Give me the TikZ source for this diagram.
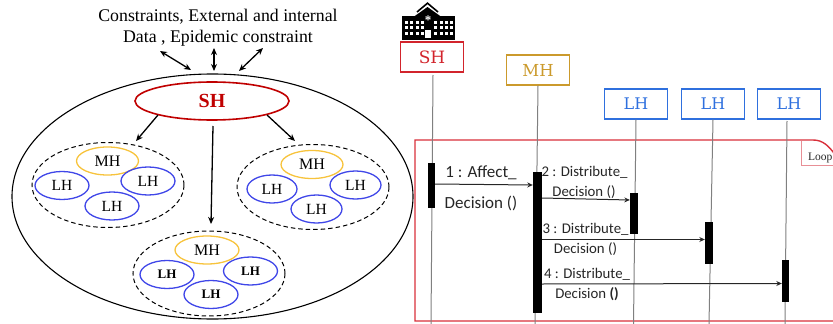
\documentclass[tikz,border=0pt]{standalone}
\usepackage{fontspec}
\setmainfont{Liberation Serif}
\newfontfamily\slabfont{DejaVu Serif}
\newfontfamily\calfont{Carlito}
\usetikzlibrary{arrows.meta,shapes.geometric}
\definecolor{shred}{HTML}{C00000}
\definecolor{myellow}{HTML}{F7C33C}
\definecolor{lblue}{HTML}{3F46E8}
\definecolor{boxred}{HTML}{D2242C}
\definecolor{boxgold}{HTML}{CB9A2C}
\definecolor{boxblue}{HTML}{2F70DE}
\definecolor{lifegray}{HTML}{808080}
\definecolor{framered}{HTML}{D8303A}
\definecolor{tabpink}{HTML}{E88F96}
\tikzset{
  x=1pt,y=-1pt,
  oval/.style n args={2}{ellipse,draw,inner sep=0pt,minimum width=#1*2pt,minimum height=#2*2pt},
  outerring/.style={oval={200.5}{122.5},draw=black,line width=1.1pt},
  sharea/.style={oval={77}{19},draw=shred,line width=1.6pt},
  grouparea/.style={oval={76}{42.5},draw=black,line width=1pt,dash pattern=on 4.5pt off 3pt},
  mhoval/.style={oval={31}{14},draw=myellow,line width=1.3pt,font=\fontsize{16}{18}\selectfont},
  lhoval/.style={oval={27}{14},draw=lblue,line width=1.3pt,font=\fontsize{15.5}{18}\selectfont},
  lhbold/.style={lhoval,font=\fontsize{13}{16}\selectfont\bfseries},
  arr/.style={line width=1.3pt,-{Stealth[length=7pt,width=6pt]}},
  biarr/.style={line width=1.3pt,{Stealth[length=7pt,width=6pt]}-{Stealth[length=7pt,width=6pt]}},
  lifebox/.style={rectangle,draw,line width=1.3pt,minimum width=63pt,minimum height=30pt,inner sep=0pt},
  lifeline/.style={draw=lifegray,line width=1pt},
  bar/.style={rectangle,fill=black,inner sep=0pt},
  msg/.style={line width=1pt,draw=black!85,-{Stealth[length=5.5pt,width=5pt]}},
  txt/.style={inner sep=0pt,anchor=base},
  msgtxt/.style={txt,text=black!85,font=\calfont\fontsize{14.8}{16}\selectfont},
  bigmsg/.style={txt,text=black!85,font=\calfont\fontsize{17}{18}\selectfont}
}
\begin{document}
\begin{tikzpicture}
\useasboundingbox (0,0) rectangle (833,324);
% title
\node[txt,font=\fontsize{17.8}{20}\selectfont] (t1) at (218,21) {Constraints, External and internal};
\node[txt,font=\fontsize{17.8}{20}\selectfont] (t2) at (218,42) {Data , Epidemic constraint};
% left structure
\node[outerring] (ring) at (212.5,196.5) {};
\node[sharea,font=\fontsize{20}{22}\selectfont\bfseries,text=shred] (sh) at (212,101) {SH};
\node[grouparea] (g1) at (108,185) {};
\node[mhoval] (m1) at (107.5,161) {MH};
\node[lhoval] (l11) at (62,185.5) {LH};
\node[lhoval] (l12) at (148,181) {LH};
\node[lhoval] (l13) at (112,206) {LH};
\node[grouparea] (g2) at (313,187) {};
\node[mhoval] (m2) at (312,164.5) {MH};
\node[lhoval,minimum width=50pt] (l21) at (272,189) {LH};
\node[lhoval,minimum width=51pt] (l22) at (355.5,185) {LH};
\node[lhoval,minimum width=51pt] (l23) at (316.5,209) {LH};
\node[grouparea] (g3) at (209,273.5) {};
\node[mhoval,minimum width=64pt] (m3) at (207,250) {MH};
\node[lhbold] (l31) at (167,274.5) {LH};
\node[lhbold] (l32) at (250.5,271) {LH};
\node[lhbold] (l33) at (211,294.5) {LH};
% free ends
\coordinate (ta) at (160,51); \coordinate (tb) at (191,70);
\coordinate (tc) at (214,48); \coordinate (td) at (214,71);
\coordinate (te) at (263,48); \coordinate (tf) at (239,71);
\coordinate (sa) at (158,115); \coordinate (sb) at (136,141);
\coordinate (sc) at (267,115); \coordinate (sd) at (295,141);
\coordinate (se) at (213,126); \coordinate (sf) at (211,224);
\draw[biarr] (ta) -- (tb);
\draw[biarr] (tc) -- (td);
\draw[biarr] (te) -- (tf);
\draw[arr] (sa) -- (sb);
\draw[arr] (sc) -- (sd);
\draw[arr] (se) -- (sf);
% hospital icon
\fill[black] (402,16) rectangle (454.5,40);
\fill[black] (412,18) -- (427.5,7) -- (443,18) -- cycle;
\draw[black,line width=1.6pt] (417,12) -- (427.5,3.2) -- (438,12);
\foreach \cx in {405,410.3,415.6,421,434,439.6,445,450.3}
  \foreach \cy in {20.5,26.3,32}
    \fill[white] (\cx,\cy) rectangle ++(3,3);
\fill[white] (425.3,30) rectangle (430.7,38);
\node[inner sep=0pt,text=white,font=\fontsize{13}{13}\selectfont\bfseries] (star) at (428,20) {*};
% lifelines
\coordinate (e1) at (431,324); \coordinate (e2) at (535,324); \coordinate (e3) at (633.5,324);
\coordinate (e4) at (709,324); \coordinate (e5) at (785,324); \coordinate (st1) at (433,75); \coordinate (st5) at (787,121);
% frame
\draw[framered,line width=1.4pt] (836,156) .. controls (829,146) and (823,140) .. (813,140) -- (415,140) -- (415,321) -- (840,321);
\draw[tabpink,line width=1pt] (801,140.5) -- (801,165.5) -- (840,165.5);
\node[txt,anchor=base west,text=black!85,font=\fontsize{11.5}{13}\selectfont] (loop) at (808,160) {Loop};
% boxes
\node[lifebox,draw=boxred,text=boxred,font=\slabfont\fontsize{17}{20}\selectfont] (bsh) at (432,57) {SH};
\node[lifebox,draw=boxgold,text=boxgold,font=\slabfont\fontsize{16.5}{20}\selectfont] (bmh) at (538,70) {MH};
\node[lifebox,draw=boxblue,text=boxblue,font=\slabfont\fontsize{16}{20}\selectfont] (bl1) at (636,104) {LH};
\node[lifebox,draw=boxblue,text=boxblue,font=\slabfont\fontsize{16}{20}\selectfont] (bl2) at (713,104) {LH};
\node[lifebox,draw=boxblue,text=boxblue,font=\slabfont\fontsize{16}{20}\selectfont] (bl3) at (789,104) {LH};
\draw[lifeline] (st1) -- (e1);
\draw[lifeline] (bmh.south) -- (e2);
\draw[lifeline] (bl1.south) -- (e3);
\draw[lifeline] (bl2.south) -- (e4);
\draw[lifeline] (st5) -- (e5);
% activation bars
\node[bar,minimum width=7pt,minimum height=45pt] (a1) at (431.5,185.5) {};
\node[bar,minimum width=9pt,minimum height=141pt] (a2) at (537.5,242.5) {};
\node[bar,minimum width=8pt,minimum height=41pt] (a3) at (634,213.5) {};
\node[bar,minimum width=8pt,minimum height=42pt] (a4) at (709,243) {};
\node[bar,minimum width=7pt,minimum height=42pt] (a5) at (785.5,281) {};
% messages
\draw[msg] (a1.east |- 0,184) -- (a2.west |- 0,185);
\draw[msg] (a2.east |- 0,198) -- (a3.west |- 0,200);
\draw[msg] (a2.east |- 0,239.5) -- (a4.west |- 0,239.5);
\draw[msg] (a2.east |- 0,284) -- (a5.west |- 0,283.5);
\node[bigmsg] (n1) at (481,177) {1 : Affect\_};
\node[bigmsg] (n1b) at (481,208) {Decision ()};
\node[msgtxt] (n2) at (584.5,176) {2 : Distribute\_};
\node[msgtxt] (n2b) at (584,196) {Decision ()};
\node[msgtxt] (n3) at (585.5,233) {3 : Distribute\_};
\node[msgtxt] (n3b) at (585.5,253) {Decision ()};
\node[msgtxt] (n4) at (587,278) {4 : Distribute\_};
\node[msgtxt] (n4b) at (587,298) {Decision \textbf{()}};
\end{tikzpicture}
\end{document}
